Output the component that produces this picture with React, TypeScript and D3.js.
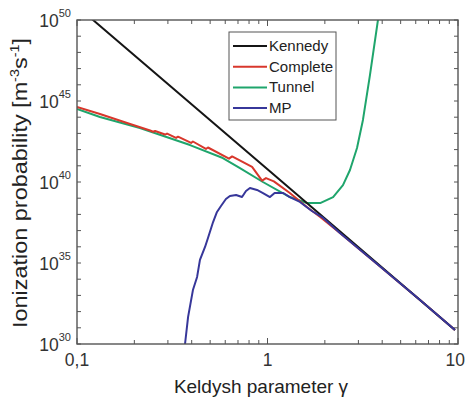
import React from 'react';
import * as d3 from 'd3';

const W = 466;
const H = 401;
const plot = { left: 77, right: 458, top: 20, bottom: 344 };

// values are gamma and log10(rate)
const kennedyGamma = [0.1, 1, 9.64];
const kennedyExp = [50.85, 40.78, 30.86];

const completeGamma = [0.1, 0.132, 0.19, 0.242, 0.251, 0.257, 0.29, 0.297, 0.331, 0.339, 0.397, 0.406, 0.475, 0.487, 0.628, 0.652, 0.83, 0.936, 0.982, 1.08, 1.31, 1.61, 1.89, 2.4, 3.9, 6.32, 9.64];
const completeExp = [44.63, 44.2, 43.58, 43.18, 43.1, 43.15, 42.93, 42.99, 42.72, 42.8, 42.41, 42.5, 42.04, 42.13, 41.44, 41.58, 40.93, 40.08, 40.24, 40.04, 39.32, 38.46, 37.84, 36.85, 34.78, 32.72, 30.86];

const tunnelGamma = [0.1, 0.132, 0.214, 0.392, 0.583, 0.717, 0.946, 1.31, 1.61, 1.89, 2.21, 2.49, 2.71, 2.95, 3.17, 3.45, 3.8, 4.09];
const tunnelExp = [44.51, 44.01, 43.33, 42.28, 41.48, 40.86, 40.0, 39.07, 38.7, 38.7, 39.07, 39.81, 40.74, 42.1, 43.83, 46.6, 50.0, 52.5];

const mpGamma = [0.365, 0.369, 0.383, 0.406, 0.427, 0.442, 0.47, 0.487, 0.518, 0.543, 0.57, 0.605, 0.635, 0.684, 0.735, 0.771, 0.809, 0.881, 0.947, 1.03, 1.09, 1.21, 1.31, 1.48, 1.71, 1.96, 2.4, 3.9, 6.32, 9.64];
const mpExp = [29.0, 30.0, 31.67, 33.33, 34.14, 35.19, 35.99, 36.54, 37.53, 38.15, 38.52, 38.95, 39.14, 39.2, 39.07, 39.44, 39.63, 39.51, 39.32, 39.07, 39.32, 39.32, 39.07, 38.77, 38.21, 37.78, 36.85, 34.78, 32.72, 30.86];

const legendNames = ['Kennedy', 'Complete', 'Tunnel', 'MP'];
const seriesColors = ['#151515', '#d8372c', '#1fa56c', '#37379a'];

const xLabelValues = [0.1, 1, 10];
const xLabelTexts = ['0,1', '1', '10'];
const yLabelExps = [30, 35, 40, 45, 50];

const zip = (g: number[], e: number[]) => g.map((v, i) => [v, e[i]] as [number, number]);

export default function App() {
  const x = d3.scaleLog().domain([0.1, 10]).range([plot.left, plot.right]);
  const y = d3.scaleLog().domain([1e30, 1e50]).range([plot.bottom, plot.top]);

  const line = d3
    .line<[number, number]>()
    .x((d) => x(d[0]))
    .y((d) => y(Math.pow(10, d[1])));

  const series = [
    zip(kennedyGamma, kennedyExp),
    zip(completeGamma, completeExp),
    zip(tunnelGamma, tunnelExp),
    zip(mpGamma, mpExp),
  ];
  // draw order: tunnel, complete, kennedy, mp
  const order = [2, 1, 0, 3];

  const xTicks = x.ticks();
  const yDecades = d3.range(30, 51).map((e) => Math.pow(10, e));
  const axisColor = '#555';
  const font = 'Liberation Sans, Arial, sans-serif';

  return (
    <svg width={W} height={H} style={{ position: 'absolute', left: 0, top: 0, background: '#fff' }} fontFamily={font}>
      <defs>
        <clipPath id="plotClip">
          <rect x={plot.left} y={plot.top} width={plot.right - plot.left} height={plot.bottom - plot.top} />
        </clipPath>
      </defs>

      {/* ticks */}
      {xTicks.map((t, i) => {
        const major = xLabelValues.some((v) => Math.abs(v - t) < 1e-9);
        const len = major ? 6 : 4;
        return (
          <g key={'xt' + i} stroke={axisColor} strokeWidth={1}>
            <line x1={x(t)} x2={x(t)} y1={plot.bottom} y2={plot.bottom - len} />
            <line x1={x(t)} x2={x(t)} y1={plot.top} y2={plot.top + len} />
          </g>
        );
      })}
      {yDecades.map((t, i) => (
        <g key={'yt' + i} stroke={axisColor} strokeWidth={1}>
          <line x1={plot.left} x2={plot.left + 4} y1={y(t)} y2={y(t)} />
          <line x1={plot.right} x2={plot.right - 4} y1={y(t)} y2={y(t)} />
        </g>
      ))}

      {/* curves */}
      <g clipPath="url(#plotClip)" fill="none">
        {order.map((k) => (
          <path key={k} d={line(series[k]) || ''} stroke={seriesColors[k]} strokeWidth={2} strokeLinejoin="round" />
        ))}
      </g>

      <rect
        x={plot.left}
        y={plot.top}
        width={plot.right - plot.left}
        height={plot.bottom - plot.top}
        fill="none"
        stroke={axisColor}
        strokeWidth={1.4}
      />

      {/* legend */}
      <rect x={229} y={32} width={107} height={88} fill="#fff" stroke={axisColor} strokeWidth={1} />
      {legendNames.map((name, i) => {
        const ly = 46 + i * 20.7;
        return (
          <g key={name}>
            <line x1={233} x2={267} y1={ly} y2={ly} stroke={seriesColors[i]} strokeWidth={2} />
            <text x={269} y={ly + 5} fontSize={15} fill="#222">
              {name}
            </text>
          </g>
        );
      })}

      {/* y tick labels */}
      {yLabelExps.map((e) => (
        <text key={'yl' + e} x={71} y={y(Math.pow(10, e)) + 7} fontSize={17.5} textAnchor="end" fill="#333">
          10
          <tspan dy={-10} fontSize={11}>
            {e}
          </tspan>
        </text>
      ))}

      {/* x tick labels */}
      {xLabelValues.map((v, i) => (
        <text
          key={'xl' + i}
          x={i === xLabelValues.length - 1 ? 465 : x(v)}
          y={366}
          fontSize={17.5}
          textAnchor={i === xLabelValues.length - 1 ? 'end' : 'middle'}
          fill="#333"
        >
          {xLabelTexts[i]}
        </text>
      ))}

      {/* axis titles */}
      <text x={261} y={393} fontSize={19} textAnchor="middle" fill="#222">
        Keldysh parameter γ
      </text>
      <text
        transform="translate(27,183) rotate(-90)"
        fontSize={19.5}
        textAnchor="middle"
        fill="#222"
        textLength={290}
        lengthAdjust="spacingAndGlyphs"
      >
        Ionization probability [m
        <tspan dy={-8} fontSize={12}>-3</tspan>
        <tspan dy={8}>s</tspan>
        <tspan dy={-8} fontSize={12}>-1</tspan>
        <tspan dy={8}>]</tspan>
      </text>
    </svg>
  );
}
